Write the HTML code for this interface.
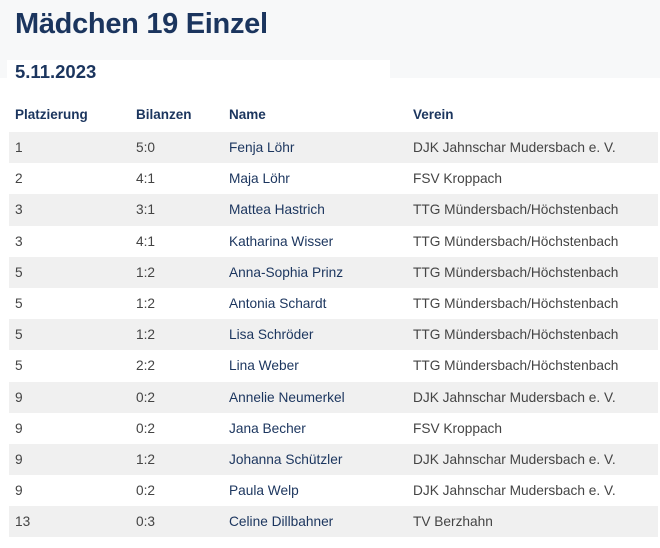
<!DOCTYPE html>
<html><head><meta charset="utf-8"><style>
body{margin:0;width:660px;height:548px;background:#f7f8f9;font-family:"Liberation Sans",sans-serif;position:relative;overflow:hidden}
h1{position:absolute;left:15px;top:8px;margin:0;font-size:29px;color:#1b355e;font-weight:bold;letter-spacing:-0.3px}
.card{position:absolute;left:0;top:78px;width:660px;height:470px;background:#fff}
.dbox{position:absolute;left:7px;top:60px;width:383px;height:28px;background:#fff}
.date{position:absolute;left:15px;top:61px;font-size:18.5px;font-weight:bold;color:#1b355e}
table{position:absolute;left:9px;top:96px;width:649px;border-collapse:collapse;font-size:13.7px;color:#444}
td,th{padding:0 0 0 6px;height:31.2px;text-align:left;white-space:nowrap}
th{height:36px;color:#1b355e;font-weight:bold;font-size:13.5px}
tbody tr:nth-child(odd){background:#f0f0f0}
td:nth-child(3){color:#1b355e}
.c1{width:115px}.c2{width:87px}.c3{width:178px}
</style></head><body>
<h1>Mädchen 19 Einzel</h1>
<div class="card"></div>
<div class="dbox"></div>
<div class="date">5.11.2023</div>
<table><thead><tr><th class="c1">Platzierung</th><th class="c2">Bilanzen</th><th class="c3">Name</th><th>Verein</th></tr></thead><tbody>
<tr><td>1</td><td>5:0</td><td>Fenja Löhr</td><td>DJK Jahnschar Mudersbach e. V.</td></tr>
<tr><td>2</td><td>4:1</td><td>Maja Löhr</td><td>FSV Kroppach</td></tr>
<tr><td>3</td><td>3:1</td><td>Mattea Hastrich</td><td>TTG Mündersbach/Höchstenbach</td></tr>
<tr><td>3</td><td>4:1</td><td>Katharina Wisser</td><td>TTG Mündersbach/Höchstenbach</td></tr>
<tr><td>5</td><td>1:2</td><td>Anna-Sophia Prinz</td><td>TTG Mündersbach/Höchstenbach</td></tr>
<tr><td>5</td><td>1:2</td><td>Antonia Schardt</td><td>TTG Mündersbach/Höchstenbach</td></tr>
<tr><td>5</td><td>1:2</td><td>Lisa Schröder</td><td>TTG Mündersbach/Höchstenbach</td></tr>
<tr><td>5</td><td>2:2</td><td>Lina Weber</td><td>TTG Mündersbach/Höchstenbach</td></tr>
<tr><td>9</td><td>0:2</td><td>Annelie Neumerkel</td><td>DJK Jahnschar Mudersbach e. V.</td></tr>
<tr><td>9</td><td>0:2</td><td>Jana Becher</td><td>FSV Kroppach</td></tr>
<tr><td>9</td><td>1:2</td><td>Johanna Schützler</td><td>DJK Jahnschar Mudersbach e. V.</td></tr>
<tr><td>9</td><td>0:2</td><td>Paula Welp</td><td>DJK Jahnschar Mudersbach e. V.</td></tr>
<tr><td>13</td><td>0:3</td><td>Celine Dillbahner</td><td>TV Berzhahn</td></tr>
</tbody></table>
</body></html>
